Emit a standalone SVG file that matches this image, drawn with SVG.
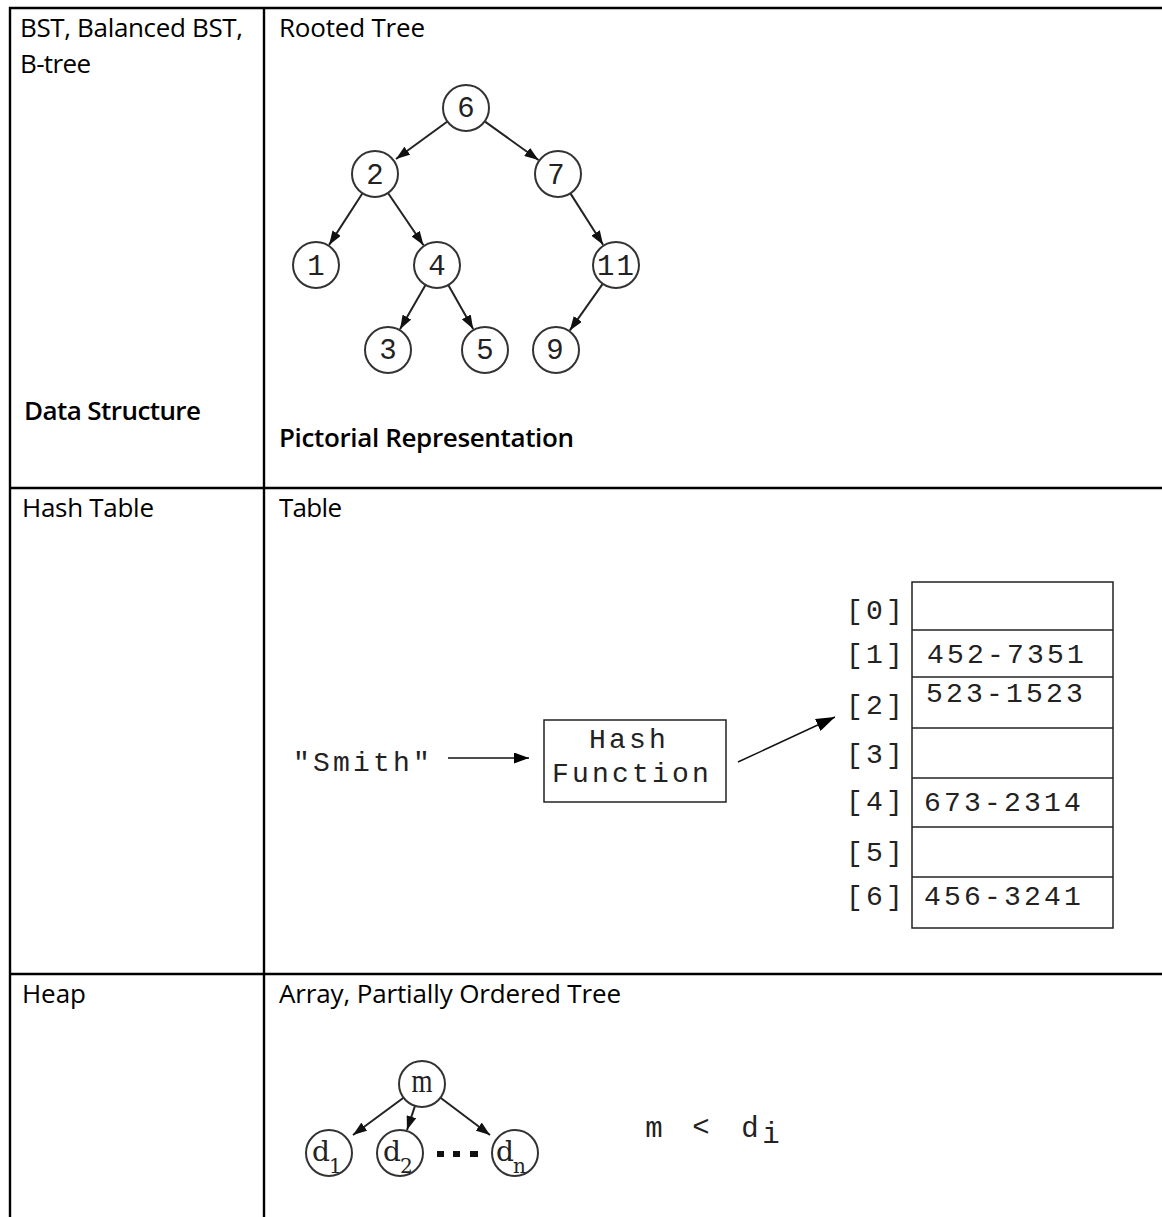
<svg xmlns="http://www.w3.org/2000/svg" width="1162" height="1217" viewBox="0 0 1162 1217">
<style>
.grid{stroke:#000;stroke-width:2.4;fill:none}
.body{font-family:"Open Sans","Liberation Sans",sans-serif;font-size:26px;fill:#000}
.bold{font-weight:600}
.node{fill:#fff;stroke:#333;stroke-width:2}
.edge{stroke:#222;stroke-width:2;fill:none}
.thin{stroke:#111;stroke-width:1.4;fill:none}
.mono{font-family:"Liberation Mono","DejaVu Sans Mono",monospace;font-size:29px;fill:#222}
.hm{font-family:"Liberation Mono","DejaVu Sans Mono",monospace;font-size:28px;fill:#222;letter-spacing:3.2px}
.ser{font-family:"Liberation Serif","DejaVu Serif",serif;fill:#222}
.dser{font-family:"DejaVu Serif","Liberation Serif",serif;fill:#222}
.box{fill:#fff;stroke:#222;stroke-width:1.5}
</style>
<defs>
<marker id="ah" markerUnits="userSpaceOnUse" markerWidth="14" markerHeight="10" refX="14" refY="5" orient="auto"><path d="M0,0 L14,5 L0,10 z" fill="#111"/></marker>
<marker id="ah2" markerUnits="userSpaceOnUse" markerWidth="15" markerHeight="11" refX="15" refY="5.5" orient="auto"><path d="M0,0 L15,5.5 L0,11 z" fill="#000"/></marker>
<marker id="ah3" markerUnits="userSpaceOnUse" markerWidth="19" markerHeight="13" refX="19" refY="6.5" orient="auto"><path d="M0,0 L19,6.5 L0,13 z" fill="#000"/></marker>
</defs>
<rect width="1162" height="1217" fill="#fff"/>

<g id="grid">
<line class="grid" x1="9" y1="8" x2="1162" y2="8"/>
<line class="grid" x1="9" y1="488" x2="1162" y2="488"/>
<line class="grid" x1="9" y1="974" x2="1162" y2="974"/>
<line class="grid" x1="10" y1="7" x2="10" y2="1217"/>
<line class="grid" x1="264" y1="7" x2="264" y2="1217"/>
</g>

<g id="cell-text">
<text class="body" x="20" y="37" textLength="223">BST, Balanced BST,</text>
<text class="body" x="20" y="73" textLength="71">B-tree</text>
<text class="body bold" x="24" y="420" textLength="177">Data Structure</text>
<text class="body" x="279" y="37" textLength="146">Rooted Tree</text>
<text class="body bold" x="279" y="447" textLength="295">Pictorial Representation</text>
<text class="body" x="22" y="517" textLength="132">Hash Table</text>
<text class="body" x="279" y="517" textLength="63">Table</text>
<text class="body" x="22" y="1003" textLength="64">Heap</text>
<text class="body" x="279" y="1003" textLength="342">Array, Partially Ordered Tree</text>
</g>

<g id="tree-edges">
<line class="edge" marker-end="url(#ah)" x1="447.4" y1="121.5" x2="396" y2="159"/>
<line class="edge" marker-end="url(#ah)" x1="484.7" y1="121.4" x2="538.5" y2="160"/>
<line class="edge" marker-end="url(#ah)" x1="362.5" y1="193.3" x2="329.1" y2="244.9"/>
<line class="edge" marker-end="url(#ah)" x1="388" y1="193" x2="423.5" y2="245.2"/>
<line class="edge" marker-end="url(#ah)" x1="570.4" y1="193.4" x2="603.1" y2="244.8"/>
<line class="edge" marker-end="url(#ah)" x1="425.5" y1="284.9" x2="400" y2="329.2"/>
<line class="edge" marker-end="url(#ah)" x1="448.3" y1="285" x2="473.2" y2="329.1"/>
<line class="edge" marker-end="url(#ah)" x1="602.7" y1="283.8" x2="569.8" y2="330.4"/>
</g>

<g id="n6"><circle class="node" cx="466" cy="108" r="23"/><text class="mono" x="466" y="117" text-anchor="middle">6</text></g>
<g id="n2"><circle class="node" cx="375" cy="174" r="23"/><text class="mono" x="375" y="184" text-anchor="middle">2</text></g>
<g id="n7"><circle class="node" cx="558" cy="174" r="23"/><text class="mono" x="556" y="184" text-anchor="middle">7</text></g>
<g id="n1"><circle class="node" cx="316" cy="265" r="23"/><text class="mono" x="316" y="275" text-anchor="middle">1</text></g>
<g id="n4"><circle class="node" cx="437" cy="265" r="23"/><text class="mono" x="437" y="275" text-anchor="middle">4</text></g>
<g id="n11"><circle class="node" cx="616" cy="265" r="23"/><text class="mono" x="597" y="275" style="letter-spacing:2px">11</text></g>
<g id="n3"><circle class="node" cx="388" cy="350" r="23"/><text class="mono" x="388" y="359" text-anchor="middle">3</text></g>
<g id="n5"><circle class="node" cx="485" cy="350" r="23"/><text class="mono" x="485" y="359" text-anchor="middle">5</text></g>
<g id="n9"><circle class="node" cx="556" cy="350" r="23"/><text class="mono" x="555" y="359" text-anchor="middle">9</text></g>

<g id="hash-connectors">
<line class="thin" marker-end="url(#ah2)" x1="448" y1="758" x2="529" y2="758"/>
<line class="thin" marker-end="url(#ah3)" x1="738" y1="762" x2="835" y2="717"/>
</g>

<g id="smith"><text class="hm" x="293" y="771">"Smith"</text></g>

<g id="hash-function">
<rect class="box" x="544" y="720" width="182" height="82"/>
<text class="hm" x="589" y="748">Hash</text>
<text class="hm" x="552" y="782">Function</text>
</g>

<g id="hash-table">
<rect class="box" x="912" y="582" width="201" height="346"/>
<line class="box" x1="912" y1="630" x2="1113" y2="630"/>
<line class="box" x1="912" y1="677" x2="1113" y2="677"/>
<line class="box" x1="912" y1="728" x2="1113" y2="728"/>
<line class="box" x1="912" y1="778" x2="1113" y2="778"/>
<line class="box" x1="912" y1="827" x2="1113" y2="827"/>
<line class="box" x1="912" y1="877" x2="1113" y2="877"/>
<text class="hm" x="846" y="619">[0]</text>
<text class="hm" x="846" y="663">[1]</text>
<text class="hm" x="846" y="714">[2]</text>
<text class="hm" x="846" y="763">[3]</text>
<text class="hm" x="846" y="810">[4]</text>
<text class="hm" x="846" y="861">[5]</text>
<text class="hm" x="846" y="905">[6]</text>
<text class="hm" x="927" y="663">452-7351</text>
<text class="hm" x="926" y="702">523-1523</text>
<text class="hm" x="924" y="811">673-2314</text>
<text class="hm" x="924" y="905">456-3241</text>
</g>

<g id="heap-edges">
<line class="edge" marker-end="url(#ah)" x1="403.5" y1="1097.7" x2="353" y2="1135"/>
<line class="edge" marker-end="url(#ah)" x1="415" y1="1105.9" x2="407" y2="1130"/>
<line class="edge" marker-end="url(#ah)" x1="440.5" y1="1097.7" x2="490" y2="1135"/>
</g>

<g id="hm-node"><circle class="node" cx="422" cy="1084" r="23"/><text class="ser" x="411.5" y="1092" font-size="34" textLength="21" lengthAdjust="spacingAndGlyphs">m</text></g>
<g id="hd1"><circle class="node" cx="329" cy="1153" r="23"/><text class="dser" x="312" y="1161" font-size="28">d</text><text class="dser" x="329" y="1173" font-size="20">1</text></g>
<g id="hd2"><circle class="node" cx="400" cy="1153" r="23"/><text class="dser" x="383" y="1161" font-size="28">d</text><text class="dser" x="400" y="1173" font-size="20">2</text></g>
<g id="hdn"><circle class="node" cx="515" cy="1153" r="23"/><text class="dser" x="496" y="1161" font-size="28">d</text><text class="dser" x="513" y="1173" font-size="20">n</text></g>

<g id="heap-dots" fill="#111">
<rect x="437" y="1151" width="7" height="6"/>
<rect x="453" y="1151" width="7" height="6"/>
<rect x="470" y="1151" width="8" height="6"/>
</g>

<g id="heap-relation">
<text class="mono" x="654" y="1137" text-anchor="middle" font-size="32">m</text>
<text class="mono" x="701" y="1136" text-anchor="middle" font-size="28">&lt;</text>
<text class="mono" x="750" y="1137" text-anchor="middle" font-size="32">d</text>
<text class="mono" x="771" y="1143" text-anchor="middle" font-size="24">i</text>
</g>
</svg>
